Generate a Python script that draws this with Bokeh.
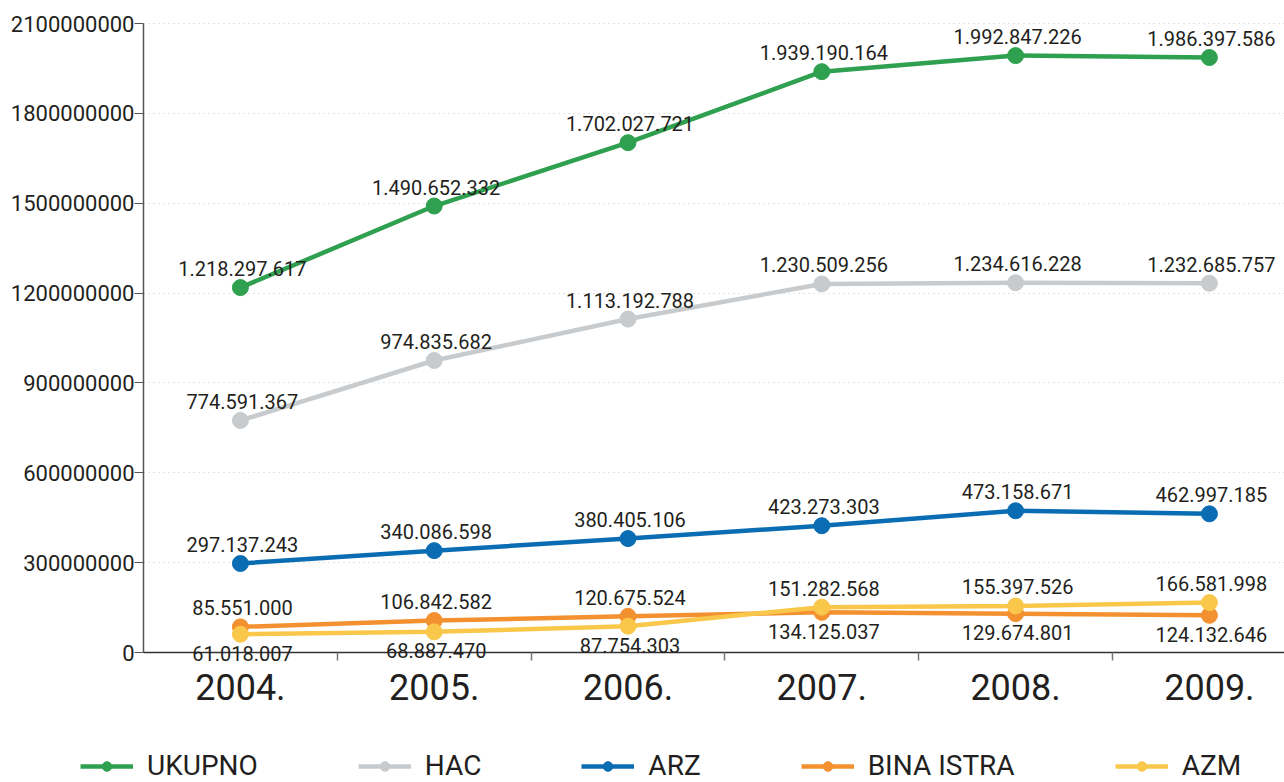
from bokeh.plotting import figure
from bokeh.models import (ColumnDataSource, Legend, LegendItem, FixedTicker,
                          Range1d, LabelSet, Grid)
from bokeh.core.properties import value
from bokeh.embed import file_html
from bokeh.resources import INLINE

years = ["2004.", "2005.", "2006.", "2007.", "2008.", "2009."]
ukupno = [1218297617, 1490652332, 1702027721, 1939190164, 1992847226, 1986397586]
hac = [774591367, 974835682, 1113192788, 1230509256, 1234616228, 1232685757]
arz = [297137243, 340086598, 380405106, 423273303, 473158671, 462997185]
bina_istra = [85551000, 106842582, 120675524, 134125037, 129674801, 124132646]
azm = [61018007, 68887470, 87754303, 151282568, 155397526, 166581998]
y_ticks = [0, 300000000, 600000000, 900000000, 1200000000, 1500000000, 1800000000, 2100000000]
y_tick_labels = [str(t) for t in y_ticks]

series = [
    ("UKUPNO", ukupno, "#2ea04f"),
    ("HAC", hac, "#c8cbcd"),
    ("ARZ", arz, "#0a6db3"),
    ("BINA ISTRA", bina_istra, "#f39130"),
    ("AZM", azm, "#f9c84b"),
]

FONT = "Roboto"
TXT = "#231f20"

xs = [i + 0.5 for i in range(len(years))]
n = len(years)

# scale: 629 px for 0..2.1e9, 193.8 px per category
K = 2100000000 / 629
X_START = -143 / 193.8
X_END = (1284 - 143) / 193.8
p = figure(width=1284, height=782, output_backend="svg", toolbar_location=None,
           x_range=Range1d(X_START, X_END), y_range=Range1d(-130 * K, 644 * K),
           x_axis_location="above", y_axis_location="right",
           min_border_left=0, min_border_right=0, min_border_top=8,
           min_border_bottom=0)
p.outline_line_color = None
p.background_fill_color = "white"

# grid (only right of the y axis)
p.xgrid.grid_line_color = None
p.ygrid.grid_line_color = "#c8c8c8"
p.ygrid.grid_line_dash = "1 4"
p.ygrid.grid_line_width = 1
p.ygrid.ticker = FixedTicker(ticks=y_ticks[1:])
if "cross_bounds" in Grid.properties():
    p.ygrid.cross_bounds = (0, X_END)

# y axis drawn at x = 0 (left edge of the first category), ticks pointing left
p.yaxis.fixed_location = 0
p.yaxis.bounds = (0, y_ticks[-1])
p.yaxis.ticker = FixedTicker(ticks=[], minor_ticks=y_ticks)
p.yaxis.axis_line_color = "#555555"
p.yaxis.axis_line_width = 1.5
p.yaxis.major_tick_line_color = None
p.yaxis.minor_tick_line_color = "#555555"
p.yaxis.minor_tick_line_width = 1.2
p.yaxis.minor_tick_out = 0
p.yaxis.minor_tick_in = 9
p.yaxis.major_label_standoff = 0

ytsrc = ColumnDataSource(dict(x=[0] * len(y_ticks), y=y_ticks, t=y_tick_labels))
p.add_layout(LabelSet(x="x", y="y", text="t", source=ytsrc, x_offset=-9,
                      text_align="right", text_baseline="middle",
                      text_font=value(FONT), text_font_size="22px", text_color=TXT))

# x axis line + separator ticks drawn at y = 0; category labels drawn as text
p.xaxis.fixed_location = 0
p.xaxis.bounds = (0, X_END)
p.xaxis.ticker = FixedTicker(ticks=[], minor_ticks=list(range(1, n)))
p.xaxis.major_label_standoff = 0
p.xaxis.axis_line_color = "#333333"
p.xaxis.axis_line_width = 1.5
p.xaxis.major_tick_line_color = None
p.xaxis.minor_tick_line_color = "#777777"
p.xaxis.minor_tick_line_width = 1.5
p.xaxis.minor_tick_out = 0
p.xaxis.minor_tick_in = 8

xlsrc = ColumnDataSource(dict(x=xs, y=[0] * n, t=years))
p.add_layout(LabelSet(x="x", y="y", text="t", source=xlsrc, y_offset=-34,
                      text_align="center", text_baseline="middle",
                      text_font=value(FONT), text_font_size="36px", text_color=TXT))

def fmt(v):
    return f"{v:,}".replace(",", ".")

renderers = []
for name, vals, col in series:
    src = ColumnDataSource(dict(x=xs, y=vals))
    l = p.line("x", "y", source=src, line_color=col, line_width=4.5)
    c = p.scatter("x", "y", source=src, size=16, fill_color=col, line_color=col)
    renderers.append((name, l, c))

# label placement: top series above; for the two lowest, higher one above, lower below
lab_x, lab_y, lab_t, lab_off = [], [], [], []
for name, vals, col in series:
    for i, v in enumerate(vals):
        lab_x.append(xs[i]); lab_y.append(v); lab_t.append(fmt(v))
        if name == "BINA ISTRA":
            above = v >= azm[i]
        elif name == "AZM":
            above = v > bina_istra[i]
        else:
            above = True
        lab_off.append(19 if above else -19)

lsrc = ColumnDataSource(dict(x=lab_x, y=lab_y, t=lab_t, off=lab_off))
p.add_layout(LabelSet(x="x", y="y", text="t", source=lsrc, y_offset="off", x_offset=2,
                      text_align="center", text_baseline="middle",
                      text_font=value(FONT), text_font_size="20px", text_color=TXT))

items = [LegendItem(label=nm, renderers=[l, c]) for nm, l, c in renderers]
legend = Legend(items=items, orientation="horizontal", location=(80, 0))
legend.label_text_font = FONT
legend.label_text_font_size = "28px"
legend.label_text_color = TXT
legend.glyph_width = 53
legend.glyph_height = 24
legend.spacing = 100
legend.label_standoff = 14
legend.border_line_color = None
legend.background_fill_alpha = 0
legend.padding = 0
legend.margin = 0
p.add_layout(legend, "center")

open("out.html", "w").write(file_html(p, INLINE))
